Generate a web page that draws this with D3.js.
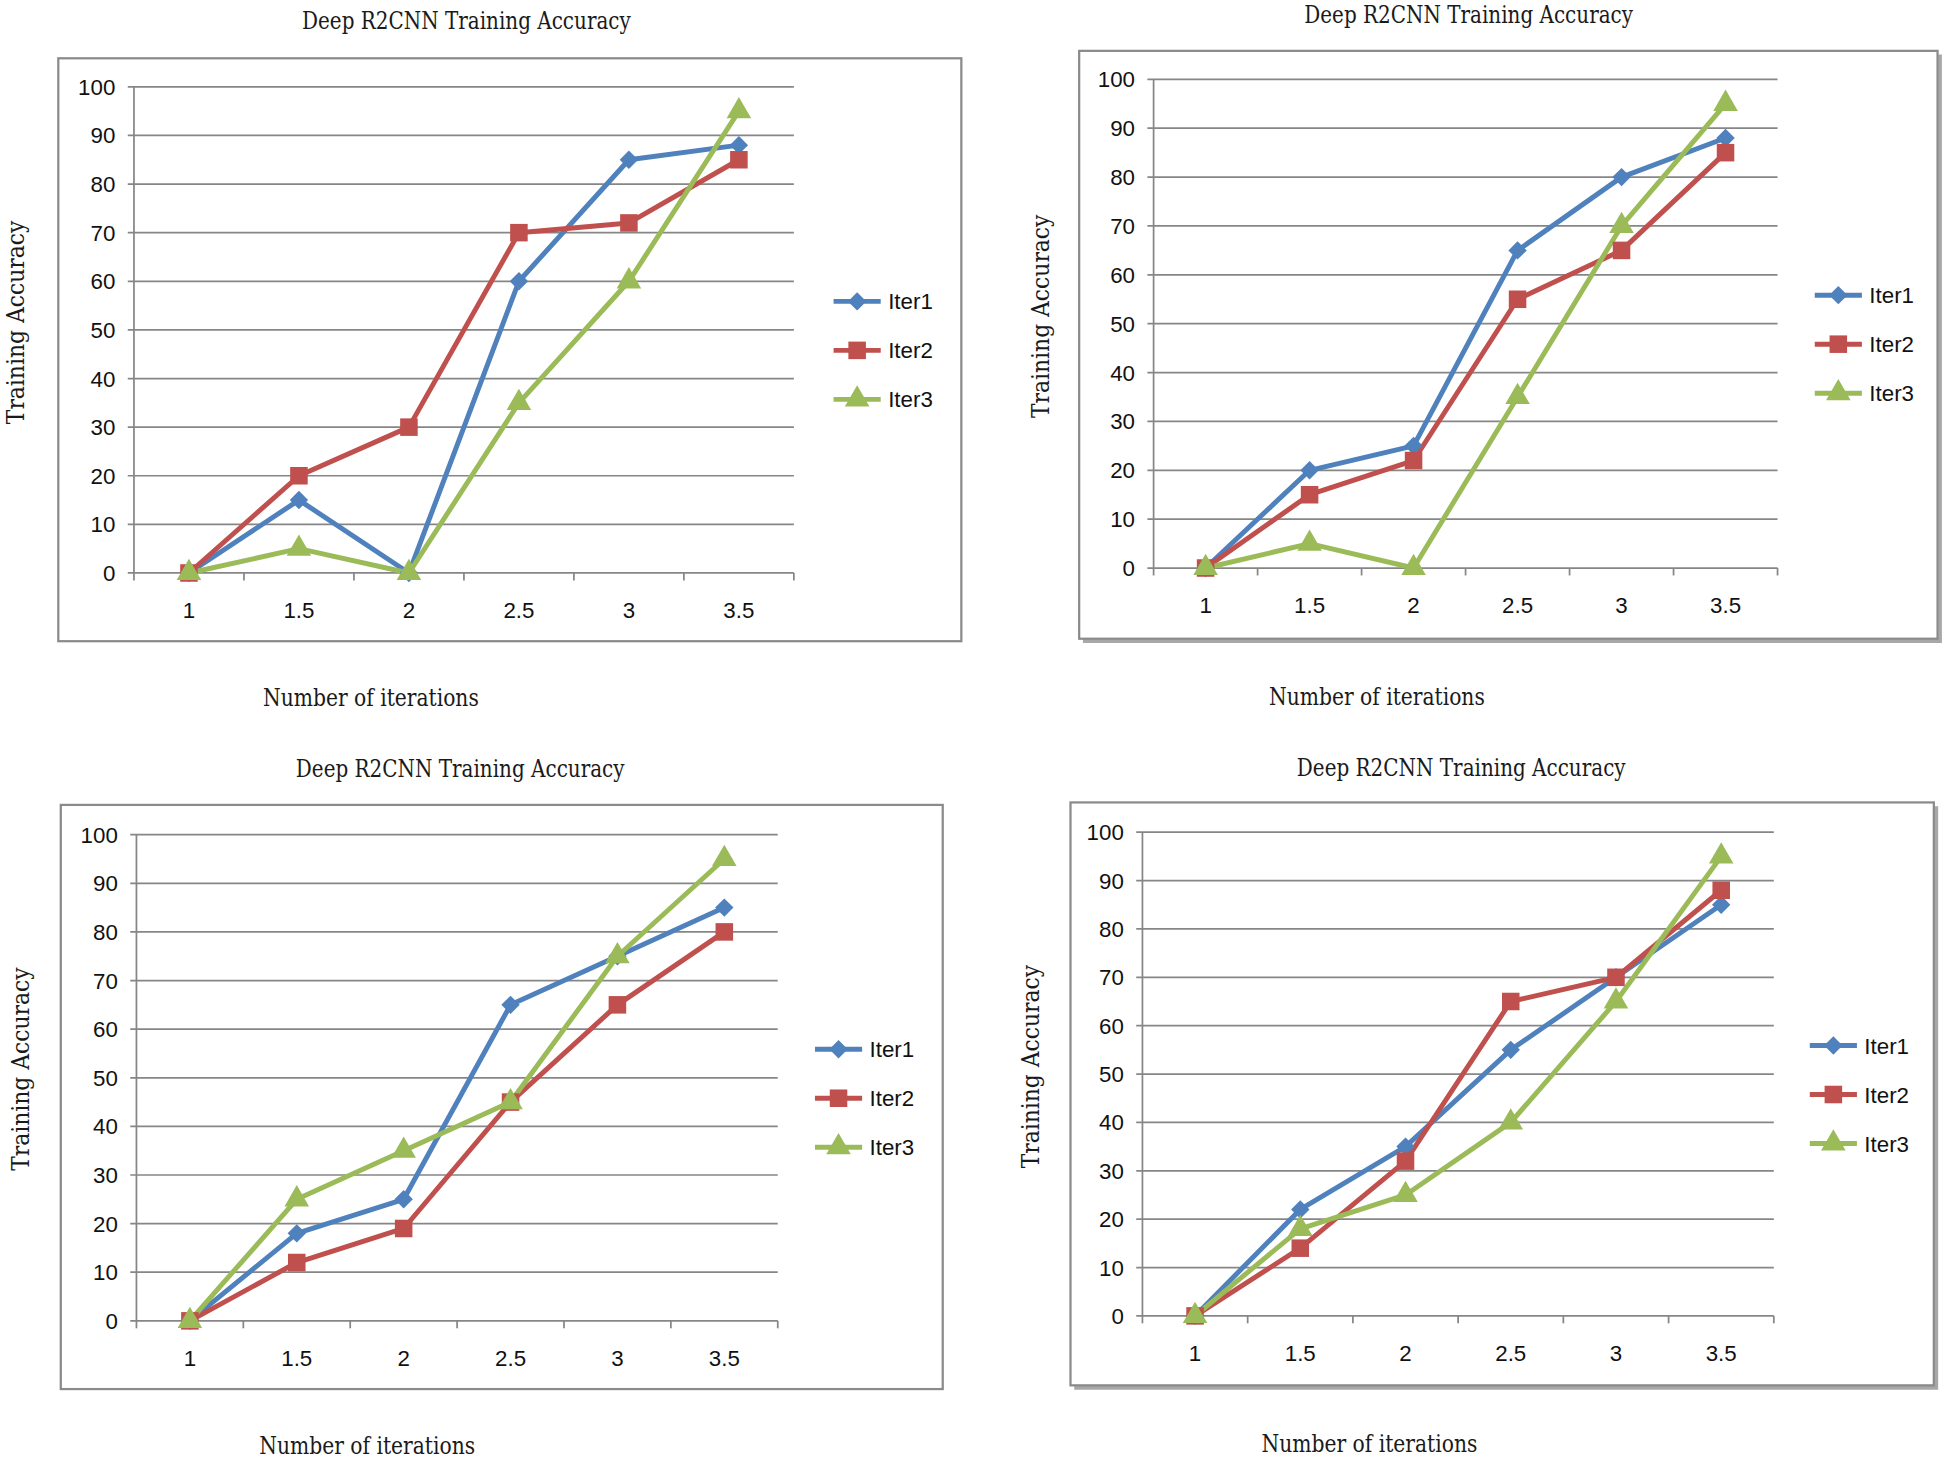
<!DOCTYPE html>
<html>
<head>
<meta charset="utf-8">
<script src="https://cdn.jsdelivr.net/npm/d3@7.9.0/dist/d3.min.js"></script>
<style>
  html, body { margin: 0; padding: 0; background: #fff; }
  svg { display: block; }
  .title, .axis-title { font-family: "DejaVu Serif Condensed", "DejaVu Serif", "Liberation Serif", serif; fill: #1a1a1a; }
  .tick-label, .legend-label { font-family: "Liberation Sans Narrow", "Liberation Sans", Arial, sans-serif; fill: #111; }
</style>
</head>
<body>
<svg id="chart" width="1945" height="1461" viewBox="0 0 1568 1178" preserveAspectRatio="none"></svg>
<script>
// x categories and y ticks shared by the four panels
const categories = ['1', '1.5', '2', '2.5', '3', '3.5'];
const yTicks = [0, 10, 20, 30, 40, 50, 60, 70, 80, 90, 100];
const seriesNames = ['Iter1', 'Iter2', 'Iter3'];
const titleText = 'Deep R2CNN Training Accuracy';
const xTitle = 'Number of iterations';
const yTitle = 'Training Accuracy';

// panel 1 (top left)
const p1Iter1 = [0, 15, 0, 60, 85, 88];
const p1Iter2 = [0, 20, 30, 70, 72, 85];
const p1Iter3 = [0, 5, 0, 35, 60, 95];
// panel 2 (top right)
const p2Iter1 = [0, 20, 25, 65, 80, 88];
const p2Iter2 = [0, 15, 22, 55, 65, 85];
const p2Iter3 = [0, 5, 0, 35, 70, 95];
// panel 3 (bottom left)
const p3Iter1 = [0, 18, 25, 65, 75, 85];
const p3Iter2 = [0, 12, 19, 45, 65, 80];
const p3Iter3 = [0, 25, 35, 45, 75, 95];
// panel 4 (bottom right)
const p4Iter1 = [0, 22, 35, 55, 70, 85];
const p4Iter2 = [0, 14, 32, 65, 70, 88];
const p4Iter3 = [0, 18, 25, 40, 65, 95];

const colors = ['#4F81BD', '#C0504D', '#9BBB59'];
const symbols = [d3.symbolSquare, d3.symbolSquare, d3.symbolTriangle];

// layout of each panel, in viewBox units
const panels = [
  { data: [p1Iter1, p1Iter2, p1Iter3], box: [47, 47, 775, 517], plot: [108, 70, 640, 462], shadow: false,
    title: [376, 17], legend: [672, 243], yLab: [13, 260], xLab: [299, 563] },
  { data: [p2Iter1, p2Iter2, p2Iter3], box: [870, 41, 1562, 515], plot: [930, 64, 1433, 458], shadow: true,
    title: [1184, 12], legend: [1463, 238], yLab: [839, 255], xLab: [1110, 562] },
  { data: [p3Iter1, p3Iter2, p3Iter3], box: [49, 649, 760, 1120], plot: [110, 673, 627, 1065], shadow: false,
    title: [371, 620], legend: [657, 846], yLab: [17, 862], xLab: [296, 1166] },
  { data: [p4Iter1, p4Iter2, p4Iter3], box: [863, 647, 1559, 1117], plot: [921, 671, 1430, 1061], shadow: true,
    title: [1178, 619], legend: [1459, 843], yLab: [831, 860], xLab: [1104, 1164] }
];

const svg = d3.select('#chart');

function markerPath(i) {
  const sizes = [110, 200, 170];
  return d3.symbol().type(symbols[i]).size(sizes[i])();
}

function drawPanel(p) {
  const g = svg.append('g');
  const [bx0, by0, bx1, by1] = p.box;
  const [left, top, right, bottom] = p.plot;

  // drop shadow on some frames
  if (p.shadow) {
    g.append('path')
      .attr('d', `M${bx0 + 3},${by1 + 2} H${bx1 + 2} V${by0 + 3}`)
      .attr('fill', 'none').attr('stroke', '#a8a8a8').attr('stroke-width', 3);
  }
  // outer frame
  g.append('rect')
    .attr('x', bx0).attr('y', by0)
    .attr('width', bx1 - bx0).attr('height', by1 - by0)
    .attr('fill', '#fff').attr('stroke', '#8a8a8a').attr('stroke-width', 1.8);

  const x = d3.scalePoint().domain(categories).range([left, right]).padding(0.5);
  const band = d3.scaleBand().domain(categories).range([left, right]);
  const y = d3.scaleLinear().domain([0, 100]).range([bottom, top]);

  // gridlines
  g.append('g').selectAll('line').data(yTicks).join('line')
    .attr('x1', left - 5).attr('x2', right)
    .attr('y1', d => y(d)).attr('y2', d => y(d))
    .attr('stroke', '#868686').attr('stroke-width', 1.4);

  // vertical axis line
  g.append('line')
    .attr('x1', left).attr('x2', left).attr('y1', y(100)).attr('y2', y(0))
    .attr('stroke', '#868686').attr('stroke-width', 1.4);

  // x tick marks at band edges
  const edges = categories.map(c => band(c)).concat([right]);
  g.append('g').selectAll('line').data(edges).join('line')
    .attr('x1', d => d).attr('x2', d => d)
    .attr('y1', y(0)).attr('y2', y(0) + 6)
    .attr('stroke', '#868686').attr('stroke-width', 1.4);

  // y tick labels
  g.append('g').selectAll('text').data(yTicks).join('text')
    .attr('class', 'tick-label')
    .attr('x', left - 15).attr('y', d => y(d))
    .attr('dy', '0.36em')
    .attr('text-anchor', 'end')
    .attr('font-size', 18)
    .text(d => d);

  // x tick labels
  g.append('g').selectAll('text').data(categories).join('text')
    .attr('class', 'tick-label')
    .attr('x', d => x(d)).attr('y', y(0) + 30)
    .attr('dy', '0.36em')
    .attr('text-anchor', 'middle')
    .attr('font-size', 18)
    .text(d => d);

  // series lines and markers
  const line = d3.line().x((d, i) => x(categories[i])).y(d => y(d));
  p.data.forEach((values, si) => {
    g.append('path')
      .attr('d', line(values))
      .attr('fill', 'none')
      .attr('stroke', colors[si])
      .attr('stroke-width', 4)
      .attr('stroke-linejoin', 'round');
  });
  p.data.forEach((values, si) => {
    g.append('g').selectAll('path').data(values).join('path')
      .attr('d', markerPath(si))
      .attr('transform', (d, i) => `translate(${x(categories[i])},${y(d)})` + (si === 0 ? ' rotate(45)' : ''))
      .attr('fill', colors[si]);
  });

  // legend
  seriesNames.forEach((name, si) => {
    const ly = p.legend[1] + si * 39.5;
    const lx = p.legend[0];
    g.append('line')
      .attr('x1', lx).attr('x2', lx + 38).attr('y1', ly).attr('y2', ly)
      .attr('stroke', colors[si]).attr('stroke-width', 4);
    g.append('path')
      .attr('d', markerPath(si))
      .attr('transform', `translate(${lx + 19},${ly})` + (si === 0 ? ' rotate(45)' : ''))
      .attr('fill', colors[si]);
    g.append('text')
      .attr('class', 'legend-label')
      .attr('x', lx + 44).attr('y', ly)
      .attr('dy', '0.36em')
      .attr('font-size', 18)
      .text(name);
  });

  // titles
  g.append('text')
    .attr('class', 'title')
    .attr('x', p.title[0]).attr('y', p.title[1])
    .attr('dy', '0.35em')
    .attr('text-anchor', 'middle')
    .attr('font-size', 19)
    .attr('textLength', 265).attr('lengthAdjust', 'spacingAndGlyphs')
    .text(titleText);

  g.append('text')
    .attr('class', 'axis-title')
    .attr('transform', `translate(${p.yLab[0]},${p.yLab[1]}) rotate(-90)`)
    .attr('dy', '0.35em')
    .attr('text-anchor', 'middle')
    .attr('font-size', 19)
    .attr('textLength', 164).attr('lengthAdjust', 'spacingAndGlyphs')
    .text(yTitle);

  g.append('text')
    .attr('class', 'axis-title')
    .attr('x', p.xLab[0]).attr('y', p.xLab[1])
    .attr('dy', '0.35em')
    .attr('text-anchor', 'middle')
    .attr('font-size', 19)
    .attr('textLength', 174).attr('lengthAdjust', 'spacingAndGlyphs')
    .text(xTitle);
}

panels.forEach(drawPanel);
</script>
</body>
</html>
